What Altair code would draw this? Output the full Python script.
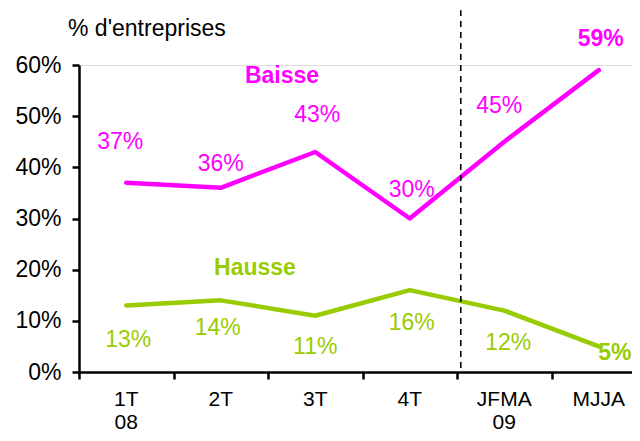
import altair as alt
import pandas as pd

# ---- data ----
categories = ["1T\n08", "2T", "3T", "4T", "JFMA\n09", "MJJA"]
baisse = [37, 36, 43, 30, 45, 59]
hausse = [13, 14, 11, 16, 12, 5]
y_ticks = [0, 10, 20, 30, 40, 50, 60]
series_names = ["Baisse", "Hausse"]
series_colors = ["#FF00FF", "#99CC00"]
y_title = "% d'entreprises"

# ---- layout / style constants ----
W, H = 553, 307
STEP = 94.5                      # px per category
PX_PER_PCT = H / 60.0
FONT = "Liberation Sans"
FS = 23
x_domain = [-0.5, -0.5 + W / STEP]
tick_positions = [i - 0.5 for i in range(len(categories))]

# label pixel offsets (dx, dy) relative to each point
baisse_off = [(-6, -34), (0, -17), (2, -30), (2, -22), (-5, -29), (2, -24)]
hausse_off = [(2, 42), (-3, 35), (0, 38), (2, 40), (4, 39), (16, 14)]

lines = []
labels = []
for name, vals, offs in [("Baisse", baisse, baisse_off), ("Hausse", hausse, hausse_off)]:
    for i, v in enumerate(vals):
        lines.append({"idx": i, "value": v, "series": name})
        dx, dy = offs[i]
        labels.append({
            "idx": i + dx / STEP,
            "value": v - dy / PX_PER_PCT,
            "series": name,
            "text": f"{v}%",
            "bold": i == len(vals) - 1,
        })
lines_df = pd.DataFrame(lines)
labels_df = pd.DataFrame(labels)

cat_df = pd.DataFrame({"idx": list(range(len(categories))), "label": categories})
series_lab_df = pd.DataFrame({
    "idx": [1.648, 1.362],
    "value": [56.5, 18.96],
    "series": series_names,
    "text": series_names,
})
rule_df = pd.DataFrame({"idx": [3.54], "value": [0.8], "value2": [70.7]})
title_df = pd.DataFrame({"t": [y_title]})

xscale = alt.Scale(domain=x_domain, nice=False, zero=False)
yscale = alt.Scale(domain=[0, 60], nice=False, zero=False)
cscale = alt.Scale(domain=series_names, range=series_colors)

xaxis = alt.Axis(values=tick_positions, labels=False, title=None, grid=False,
                 tickSize=7, tickWidth=2.5, domainWidth=2.5,
                 tickColor="black", domainColor="black")
yaxis = alt.Axis(values=y_ticks, labelExpr="datum.value + '%'", title=None, grid=False,
                 tickSize=7, tickWidth=2.5, domainWidth=2.5,
                 tickColor="black", domainColor="black",
                 labelFont=FONT, labelFontSize=FS, labelColor="black",
                 labelPadding=11)


def X(field):
    return alt.X(f"{field}:Q", scale=xscale, axis=xaxis)


def Y(field):
    return alt.Y(f"{field}:Q", scale=yscale, axis=yaxis)


color = alt.Color("series:N", scale=cscale, legend=None)

line_layer = alt.Chart(lines_df).mark_line(strokeWidth=4.5, strokeCap="round", strokeJoin="round").encode(
    x=X("idx"), y=Y("value"), color=color, detail="series:N"
)

val_normal = alt.Chart(labels_df).transform_filter("!datum.bold").mark_text(
    font=FONT, fontSize=FS, baseline="alphabetic", align="center"
).encode(x=X("idx"), y=Y("value"), text="text:N", color=color)

val_bold = alt.Chart(labels_df).transform_filter("datum.bold").mark_text(
    font=FONT, fontSize=FS, fontWeight="bold", baseline="alphabetic", align="center"
).encode(x=X("idx"), y=Y("value"), text="text:N", color=color)

series_layer = alt.Chart(series_lab_df).mark_text(
    font=FONT, fontSize=FS, fontWeight="bold", baseline="alphabetic", align="center"
).encode(x=X("idx"), y=Y("value"), text="text:N", color=color)

rule_layer = alt.Chart(rule_df).mark_rule(color="black", strokeWidth=1.6, strokeDash=[6, 5]).encode(
    x=X("idx"), y=Y("value"), y2="value2:Q"
)

cat_layer = alt.Chart(cat_df).mark_text(
    font=FONT, fontSize=21, baseline="alphabetic", align="center", lineBreak="\n",
    lineHeight=23, color="black"
).encode(x=X("idx"), y=alt.value(341), text="label:N")

title_layer = alt.Chart(title_df).mark_text(
    font=FONT, fontSize=FS, baseline="alphabetic", align="left", color="black"
).encode(x=alt.value(-11), y=alt.value(-29), text="t:N")

chart = alt.layer(
    line_layer, val_normal, val_bold, series_layer, cat_layer, title_layer, rule_layer
).properties(
    width=W, height=H,
    autosize=alt.AutoSizeParams(type="none"),
    padding={"left": 71, "top": 57, "right": 0, "bottom": 61},
).configure_view(stroke=None, strokeWidth=0).configure(font=FONT, background="white")

chart.save("out.html", embed_options={"renderer": "svg", "actions": False})
